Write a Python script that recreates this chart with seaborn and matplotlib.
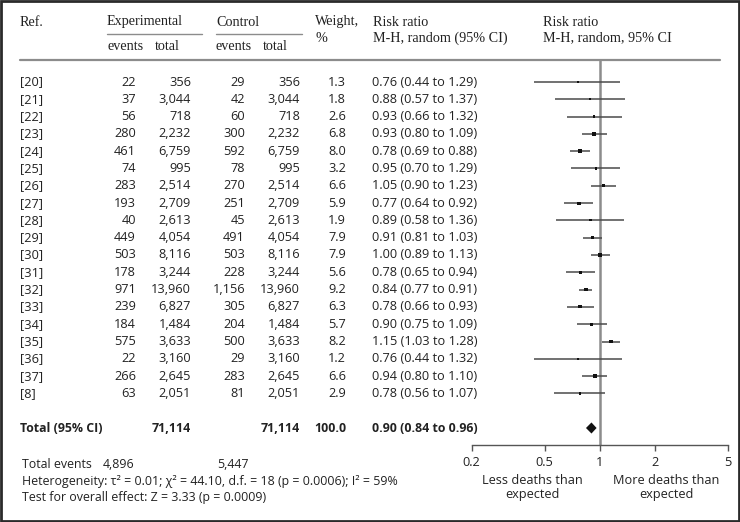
import matplotlib
matplotlib.use("Agg")
import matplotlib.pyplot as plt
import seaborn as sns
import pandas as pd
from matplotlib.patches import Rectangle

# ---------------- data ----------------
refs = ['[20]', '[21]', '[22]', '[23]', '[24]', '[25]', '[26]', '[27]', '[28]', '[29]',
        '[30]', '[31]', '[32]', '[33]', '[34]', '[35]', '[36]', '[37]', '[8]']
exp_events = [22, 37, 56, 280, 461, 74, 283, 193, 40, 449, 503, 178, 971, 239, 184, 575, 22, 266, 63]
exp_total = [356, 3044, 718, 2232, 6759, 995, 2514, 2709, 2613, 4054, 8116, 3244, 13960, 6827,
             1484, 3633, 3160, 2645, 2051]
ctrl_events = [29, 42, 60, 300, 592, 78, 270, 251, 45, 491, 503, 228, 1156, 305, 204, 500, 29, 283, 81]
ctrl_total = [356, 3044, 718, 2232, 6759, 995, 2514, 2709, 2613, 4054, 8116, 3244, 13960, 6827,
              1484, 3633, 3160, 2645, 2051]
weights = [1.3, 1.8, 2.6, 6.8, 8.0, 3.2, 6.6, 5.9, 1.9, 7.9, 7.9, 5.6, 9.2, 6.3, 5.7, 8.2, 1.2, 6.6, 2.9]
rr = [0.76, 0.88, 0.93, 0.93, 0.78, 0.95, 1.05, 0.77, 0.89, 0.91, 1.00, 0.78, 0.84, 0.78, 0.90,
      1.15, 0.76, 0.94, 0.78]
rr_lo = [0.44, 0.57, 0.66, 0.80, 0.69, 0.70, 0.90, 0.64, 0.58, 0.81, 0.89, 0.65, 0.77, 0.66, 0.75,
         1.03, 0.44, 0.80, 0.56]
rr_hi = [1.29, 1.37, 1.32, 1.09, 0.88, 1.29, 1.23, 0.92, 1.36, 1.03, 1.13, 0.94, 0.91, 0.93, 1.09,
         1.28, 1.32, 1.10, 1.07]

total_label = 'Total (95% CI)'
total_exp = 71114
total_ctrl = 71114
total_weight = 100.0
total_rr, total_lo, total_hi = 0.90, 0.84, 0.96
total_events_exp = 4896
total_events_ctrl = 5447
heterogeneity = 'Heterogeneity: τ² = 0.01; χ² = 44.10, d.f. = 18 (p = 0.0006); I² = 59%'
overall_test = 'Test for overall effect: Z = 3.33 (p = 0.0009)'
xticks = [0.2, 0.5, 1, 2, 5]
xtick_labels = ['0.2', '0.5', '1', '2', '5']

df = pd.DataFrame({'row': range(len(refs)), 'rr': rr, 'lo': rr_lo, 'hi': rr_hi, 'w': weights})

# ---------------- style ----------------
sns.set_theme(style='white')
plt.rcParams['font.family'] = ['Open Sans', 'DejaVu Sans']
SANS = ['Open Sans', 'DejaVu Sans']
SERIF = ['Liberation Serif', 'DejaVu Serif']
TXT = '#222222'
GRID = '#8c8c8c'
FS = 9.2
FFS = 8.9
HFS = 10.2

W, H = 740, 522
fig = plt.figure(figsize=(W / 100, H / 100), dpi=100)

# overlay axes in pixel coordinates for the table text
tx = fig.add_axes([0, 0, 1, 1])
tx.set_xlim(0, W)
tx.set_ylim(H, 0)
tx.axis('off')

ROW0, DY = 82.0, 17.3


def rowy(i):
    return ROW0 + DY * i


# header
hkw = dict(family=SERIF, fontsize=HFS, color=TXT, va='center')
tx.text(20, 22, 'Ref.', **hkw)
tx.text(107, 22, 'Experimental', **hkw)
tx.text(216, 22, 'Control', **hkw)
tx.text(107, 46.5, 'events', **hkw)
tx.text(155, 46.5, 'total', **hkw)
tx.text(216, 46.5, 'events', **hkw)
tx.text(263, 46.5, 'total', **hkw)
tx.text(315, 22, 'Weight,', **hkw)
tx.text(315, 38, '%', **hkw)
tx.text(373, 22, 'Risk ratio', **hkw)
tx.text(373, 38, 'M-H, random (95% CI)', **hkw)
tx.text(543, 22, 'Risk ratio', **hkw)
tx.text(543, 38, 'M-H, random, 95% CI', **hkw)
tx.plot([107, 202], [33.5, 33.5], color=GRID, lw=1.0)
tx.plot([216, 302], [33.5, 33.5], color=GRID, lw=1.0)
tx.plot([20, 720], [60, 60], color=GRID, lw=1.6)

# rows
bkw = dict(family=SANS, fontsize=FS, color=TXT, va='center')
for i in range(len(refs)):
    y = rowy(i)
    tx.text(20, y, refs[i], ha='left', **bkw)
    tx.text(136, y, f'{exp_events[i]:,}', ha='right', **bkw)
    tx.text(191, y, f'{exp_total[i]:,}', ha='right', **bkw)
    tx.text(245, y, f'{ctrl_events[i]:,}', ha='right', **bkw)
    tx.text(300, y, f'{ctrl_total[i]:,}', ha='right', **bkw)
    tx.text(346, y, f'{weights[i]:.1f}', ha='right', **bkw)
    tx.text(372, y, f'{rr[i]:.2f} ({rr_lo[i]:.2f} to {rr_hi[i]:.2f})', ha='left', **bkw)

# total row
yt = 428
tkw = dict(family=SANS, fontsize=8.9, color=TXT, va='center', fontweight='bold')
tx.text(20, yt, total_label, ha='left', **tkw)
tx.text(191, yt, f'{total_exp:,}', ha='right', **tkw)
tx.text(300, yt, f'{total_ctrl:,}', ha='right', **tkw)
tx.text(346, yt, f'{total_weight:.1f}', ha='right', **tkw)
tx.text(372, yt, f'{total_rr:.2f} ({total_lo:.2f} to {total_hi:.2f})', ha='left', **tkw)

# footer
fkw = dict(family=SANS, fontsize=FFS, color=TXT, va='center')
tx.text(22, 465, 'Total events', ha='left', **fkw)
tx.text(103, 465, f'{total_events_exp:,}', ha='left', **fkw)
tx.text(217, 465, f'{total_events_ctrl:,}', ha='left', **fkw)
tx.text(22, 481, heterogeneity, ha='left', **fkw)
tx.text(22, 498, overall_test, ha='left', **fkw)
tx.text(532, 487.5, 'Less deaths than\nexpected', ha='center', linespacing=1.05, **bkw)
tx.text(666, 487.5, 'More deaths than\nexpected', ha='center', linespacing=1.05, **bkw)

# frame
tx.add_patch(Rectangle((1, 1), W - 2, H - 2, fill=False, ec='#2a2a2a', lw=2.0))

# ---------------- forest axes ----------------
x0, x1 = 471.7, 728.0
ytop, ybot = 60.0, 445.0
ax = fig.add_axes([x0 / W, (H - ybot) / H, (x1 - x0) / W, (ybot - ytop) / H])
ax.patch.set_alpha(0)
ax.set_xscale('log')
ax.set_xlim(0.2, 5)
ax.set_ylim((ybot - ROW0) / DY, (ytop - ROW0) / DY)

ax.axvline(1, color=GRID, lw=1.8, zorder=1)
ax.hlines(df['row'], df['lo'], df['hi'], color='#4a4a4a', lw=1.1, zorder=2)
sns.scatterplot(data=df, x='rr', y='row', size='w', sizes=(2, 7), marker='s',
                color='#111111', edgecolor='none', legend=False, ax=ax, zorder=3)
# pooled diamond
trow = (yt - ROW0) / DY
ax.fill([total_lo, total_rr, total_hi, total_rr], [trow, trow - 0.32, trow, trow + 0.32],
        color='#111111', lw=0, zorder=3)

for s in ['top', 'left', 'right']:
    ax.spines[s].set_visible(False)
ax.spines['bottom'].set_color('#555555')
ax.spines['bottom'].set_linewidth(1.0)
ax.set_xticks(xticks)
ax.set_xticklabels(xtick_labels, family=SANS, fontsize=FS, color=TXT)
ax.minorticks_off()
ax.tick_params(axis='x', direction='out', length=4, width=1, color='#555555', pad=4, bottom=True)
ax.set_yticks([])
ax.set_xlabel('')
ax.set_ylabel('')

fig.savefig('out.png', dpi=100)
